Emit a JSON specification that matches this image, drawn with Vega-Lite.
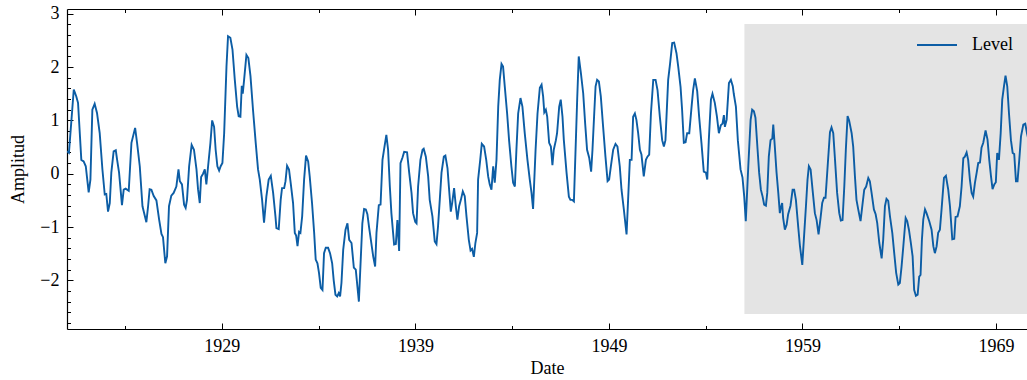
{
  "$schema": "https://vega.github.io/schema/vega-lite/v6.json",
  "width": 960,
  "height": 320,
  "autosize": {"type": "none"},
  "padding": {"left": 67, "top": 9, "right": 0, "bottom": 51},
  "background": "white",
  "config": {
    "view": {"stroke": null},
    "font": "Liberation Serif",
    "axis": {
      "labelFont": "Liberation Serif",
      "titleFont": "Liberation Serif",
      "labelFontSize": 18,
      "titleFontSize": 18,
      "titleFontWeight": "normal",
      "labelColor": "#000000",
      "titleColor": "#000000",
      "domainColor": "#000000",
      "domainWidth": 1.2,
      "tickColor": "#000000",
      "tickWidth": 1,
      "grid": false
    }
  },
  "layer": [
    {
      "data": {"values": [{"start": 1956.0, "end": 1970.6, "low": -2.63, "high": 2.81}]},
      "mark": {"type": "rect", "color": "#e4e4e4", "clip": true},
      "encoding": {
        "x": {
          "field": "start", "type": "quantitative",
          "scale": {"domain": [1921.0, 1970.6], "nice": false, "zero": false},
          "axis": {
            "orient": "top", "title": null, "labels": false,
            "values": [1924, 1929, 1934, 1939, 1944, 1949, 1954, 1959, 1964, 1969],
            "tickSize": {"condition": {"test": "(datum.value - 1929) % 10 == 0", "value": -6}, "value": -3.5}
          }
        },
        "x2": {"field": "end"},
        "y": {
          "field": "low", "type": "quantitative",
          "scale": {"domain": [-2.913, 3.09], "nice": false, "zero": false},
          "axis": null
        },
        "y2": {"field": "high"}
      }
    },
    {
      "data": {"values": [
        {"year": 1921.00, "level": 0.42}, {"year": 1921.10, "level": 0.39}, {"year": 1921.35, "level": 1.58}, {"year": 1921.48, "level": 1.45}, {"year": 1921.57, "level": 1.33}, {"year": 1921.74, "level": 0.26}, {"year": 1921.86, "level": 0.23}, {"year": 1921.97, "level": 0.14}, {"year": 1922.12, "level": -0.35}, {"year": 1922.21, "level": -0.11}, {"year": 1922.31, "level": 1.2}, {"year": 1922.43, "level": 1.31}, {"year": 1922.55, "level": 1.14}, {"year": 1922.69, "level": 0.76}, {"year": 1922.83, "level": 0.08}, {"year": 1922.95, "level": -0.39}, {"year": 1923.03, "level": -0.38}, {"year": 1923.12, "level": -0.71}, {"year": 1923.21, "level": -0.55}, {"year": 1923.29, "level": 0.02}, {"year": 1923.41, "level": 0.42}, {"year": 1923.52, "level": 0.44}, {"year": 1923.59, "level": 0.26}, {"year": 1923.69, "level": 0.02}, {"year": 1923.84, "level": -0.59}, {"year": 1923.93, "level": -0.3}, {"year": 1924.03, "level": -0.28}, {"year": 1924.19, "level": -0.32}, {"year": 1924.33, "level": 0.58}, {"year": 1924.52, "level": 0.86}, {"year": 1924.62, "level": 0.58}, {"year": 1924.76, "level": 0.14}, {"year": 1924.90, "level": -0.61}, {"year": 1925.10, "level": -0.91}, {"year": 1925.19, "level": -0.61}, {"year": 1925.27, "level": -0.29}, {"year": 1925.36, "level": -0.3}, {"year": 1925.48, "level": -0.42}, {"year": 1925.62, "level": -0.5}, {"year": 1925.76, "level": -0.86},
        {"year": 1925.88, "level": -1.13}, {"year": 1925.96, "level": -1.19}, {"year": 1926.08, "level": -1.68}, {"year": 1926.17, "level": -1.55}, {"year": 1926.27, "level": -0.61}, {"year": 1926.39, "level": -0.41}, {"year": 1926.51, "level": -0.36}, {"year": 1926.65, "level": -0.24}, {"year": 1926.76, "level": 0.08}, {"year": 1926.83, "level": -0.14}, {"year": 1926.94, "level": -0.2}, {"year": 1927.05, "level": -0.58}, {"year": 1927.13, "level": -0.64}, {"year": 1927.20, "level": -0.49}, {"year": 1927.31, "level": 0.14}, {"year": 1927.44, "level": 0.54}, {"year": 1927.56, "level": 0.45}, {"year": 1927.69, "level": 0.08}, {"year": 1927.77, "level": -0.29}, {"year": 1927.86, "level": -0.55}, {"year": 1927.93, "level": -0.06}, {"year": 1928.03, "level": 0.0}, {"year": 1928.12, "level": 0.08}, {"year": 1928.20, "level": -0.2}, {"year": 1928.29, "level": 0.14}, {"year": 1928.41, "level": 0.58}, {"year": 1928.50, "level": 1.0}, {"year": 1928.60, "level": 0.88}, {"year": 1928.68, "level": 0.45}, {"year": 1928.77, "level": 0.14}, {"year": 1928.86, "level": 0.06}, {"year": 1928.94, "level": 0.14}, {"year": 1929.03, "level": 0.2}, {"year": 1929.12, "level": 0.76}, {"year": 1929.24, "level": 2.01}, {"year": 1929.32, "level": 2.58}, {"year": 1929.44, "level": 2.55}, {"year": 1929.55, "level": 2.33}, {"year": 1929.67, "level": 1.76}, {"year": 1929.79, "level": 1.26}, {"year": 1929.87, "level": 1.08}, {"year": 1929.96, "level": 1.07}, {"year": 1930.03, "level": 1.65}, {"year": 1930.08, "level": 1.5}, {"year": 1930.15, "level": 1.76}, {"year": 1930.27, "level": 2.23}, {"year": 1930.37, "level": 2.17}, {"year": 1930.48, "level": 1.83}, {"year": 1930.61, "level": 1.2}, {"year": 1930.75, "level": 0.58},
        {"year": 1930.87, "level": 0.08}, {"year": 1930.96, "level": -0.11}, {"year": 1931.08, "level": -0.49}, {"year": 1931.18, "level": -0.92}, {"year": 1931.30, "level": -0.43}, {"year": 1931.42, "level": -0.11}, {"year": 1931.53, "level": -0.04}, {"year": 1931.65, "level": -0.36}, {"year": 1931.77, "level": -0.8}, {"year": 1931.82, "level": -1.02}, {"year": 1931.94, "level": -1.04}, {"year": 1932.04, "level": -0.49}, {"year": 1932.11, "level": -0.27}, {"year": 1932.22, "level": -0.27}, {"year": 1932.29, "level": -0.14}, {"year": 1932.37, "level": 0.15}, {"year": 1932.47, "level": 0.08}, {"year": 1932.56, "level": -0.18}, {"year": 1932.68, "level": -0.55}, {"year": 1932.77, "level": -1.11}, {"year": 1932.84, "level": -1.16}, {"year": 1932.91, "level": -1.36}, {"year": 1932.99, "level": -1.09}, {"year": 1933.06, "level": -1.11}, {"year": 1933.15, "level": -0.8}, {"year": 1933.25, "level": -0.11}, {"year": 1933.35, "level": 0.34}, {"year": 1933.46, "level": 0.23}, {"year": 1933.54, "level": -0.05}, {"year": 1933.66, "level": -0.55}, {"year": 1933.77, "level": -1.11}, {"year": 1933.85, "level": -1.61}, {"year": 1933.94, "level": -1.68}, {"year": 1934.02, "level": -1.86}, {"year": 1934.11, "level": -2.14}, {"year": 1934.20, "level": -2.18}, {"year": 1934.28, "level": -1.49}, {"year": 1934.37, "level": -1.39}, {"year": 1934.49, "level": -1.39}, {"year": 1934.59, "level": -1.49}, {"year": 1934.70, "level": -1.68}, {"year": 1934.78, "level": -2.0}, {"year": 1934.87, "level": -2.27}, {"year": 1934.96, "level": -2.3}, {"year": 1935.04, "level": -2.24}, {"year": 1935.11, "level": -2.3}, {"year": 1935.18, "level": -2.05}, {"year": 1935.27, "level": -1.43}, {"year": 1935.39, "level": -1.05}, {"year": 1935.49, "level": -0.93}, {"year": 1935.58, "level": -1.24},
        {"year": 1935.70, "level": -1.3}, {"year": 1935.82, "level": -1.76}, {"year": 1935.92, "level": -1.8}, {"year": 1936.08, "level": -2.4}, {"year": 1936.16, "level": -1.74}, {"year": 1936.26, "level": -0.93}, {"year": 1936.35, "level": -0.66}, {"year": 1936.44, "level": -0.67}, {"year": 1936.52, "level": -0.76}, {"year": 1936.61, "level": -1.01}, {"year": 1936.70, "level": -1.24}, {"year": 1936.82, "level": -1.55}, {"year": 1936.92, "level": -1.74}, {"year": 1936.99, "level": -1.11}, {"year": 1937.11, "level": -0.59}, {"year": 1937.20, "level": -0.58}, {"year": 1937.30, "level": 0.26}, {"year": 1937.40, "level": 0.5}, {"year": 1937.50, "level": 0.73}, {"year": 1937.59, "level": 0.45}, {"year": 1937.68, "level": -0.24}, {"year": 1937.76, "level": -0.74}, {"year": 1937.90, "level": -1.33}, {"year": 1937.99, "level": -1.32}, {"year": 1938.07, "level": -0.87}, {"year": 1938.16, "level": -1.45}, {"year": 1938.23, "level": 0.2}, {"year": 1938.33, "level": 0.3}, {"year": 1938.42, "level": 0.41}, {"year": 1938.57, "level": 0.4}, {"year": 1938.68, "level": 0.02}, {"year": 1938.80, "level": -0.36}, {"year": 1938.88, "level": -0.74}, {"year": 1938.99, "level": -0.9}, {"year": 1939.06, "level": -0.93}, {"year": 1939.14, "level": -0.24}, {"year": 1939.26, "level": 0.26}, {"year": 1939.37, "level": 0.45}, {"year": 1939.43, "level": 0.47}, {"year": 1939.54, "level": 0.32}, {"year": 1939.66, "level": -0.05}, {"year": 1939.74, "level": -0.49}, {"year": 1939.88, "level": -0.8}, {"year": 1940.00, "level": -1.27}, {"year": 1940.09, "level": -1.32}, {"year": 1940.17, "level": -0.99}, {"year": 1940.26, "level": -0.49}, {"year": 1940.35, "level": 0.02}, {"year": 1940.47, "level": 0.32}, {"year": 1940.55, "level": 0.34}, {"year": 1940.66, "level": 0.1},
        {"year": 1940.73, "level": -0.24}, {"year": 1940.83, "level": -0.71}, {"year": 1940.90, "level": -0.55}, {"year": 1941.00, "level": -0.27}, {"year": 1941.09, "level": -0.61}, {"year": 1941.17, "level": -0.86}, {"year": 1941.26, "level": -0.61}, {"year": 1941.35, "level": -0.49}, {"year": 1941.45, "level": -0.33}, {"year": 1941.55, "level": -0.42}, {"year": 1941.64, "level": -0.8}, {"year": 1941.76, "level": -1.24}, {"year": 1941.85, "level": -1.44}, {"year": 1941.93, "level": -1.41}, {"year": 1942.02, "level": -1.56}, {"year": 1942.10, "level": -1.3}, {"year": 1942.19, "level": -1.11}, {"year": 1942.24, "level": -0.11}, {"year": 1942.35, "level": 0.26}, {"year": 1942.43, "level": 0.56}, {"year": 1942.55, "level": 0.51}, {"year": 1942.66, "level": 0.26}, {"year": 1942.76, "level": -0.05}, {"year": 1942.84, "level": -0.2}, {"year": 1942.93, "level": -0.3}, {"year": 1943.02, "level": 0.14}, {"year": 1943.10, "level": -0.17}, {"year": 1943.19, "level": 0.26}, {"year": 1943.28, "level": 1.26}, {"year": 1943.36, "level": 1.76}, {"year": 1943.45, "level": 2.06}, {"year": 1943.53, "level": 2.01}, {"year": 1943.62, "level": 1.63}, {"year": 1943.74, "level": 1.13}, {"year": 1943.84, "level": 0.63}, {"year": 1943.96, "level": 0.14}, {"year": 1944.05, "level": -0.17}, {"year": 1944.14, "level": -0.24}, {"year": 1944.22, "level": 0.45}, {"year": 1944.31, "level": 1.13}, {"year": 1944.43, "level": 1.42}, {"year": 1944.53, "level": 1.26}, {"year": 1944.65, "level": 0.76}, {"year": 1944.79, "level": 0.26}, {"year": 1944.91, "level": -0.11}, {"year": 1945.00, "level": -0.36}, {"year": 1945.08, "level": -0.66}, {"year": 1945.21, "level": 0.45}, {"year": 1945.31, "level": 1.13}, {"year": 1945.43, "level": 1.61}, {"year": 1945.52, "level": 1.67}, {"year": 1945.60, "level": 1.45},
        {"year": 1945.66, "level": 1.15}, {"year": 1945.74, "level": 1.2}, {"year": 1945.81, "level": 1.07}, {"year": 1945.91, "level": 0.58}, {"year": 1946.00, "level": 0.51}, {"year": 1946.08, "level": 0.16}, {"year": 1946.15, "level": 0.45}, {"year": 1946.26, "level": 0.63}, {"year": 1946.32, "level": 0.76}, {"year": 1946.43, "level": 1.26}, {"year": 1946.51, "level": 1.39}, {"year": 1946.60, "level": 1.07}, {"year": 1946.67, "level": 0.63}, {"year": 1946.81, "level": 0.02}, {"year": 1946.93, "level": -0.43}, {"year": 1947.01, "level": -0.49}, {"year": 1947.10, "level": -0.49}, {"year": 1947.19, "level": -0.52}, {"year": 1947.36, "level": 1.4}, {"year": 1947.44, "level": 2.2}, {"year": 1947.55, "level": 1.89}, {"year": 1947.67, "level": 1.51}, {"year": 1947.77, "level": 0.95}, {"year": 1947.87, "level": 0.45}, {"year": 1947.98, "level": 0.3}, {"year": 1948.08, "level": 0.04}, {"year": 1948.15, "level": 0.45}, {"year": 1948.24, "level": 1.13}, {"year": 1948.31, "level": 1.64}, {"year": 1948.39, "level": 1.76}, {"year": 1948.48, "level": 1.73}, {"year": 1948.58, "level": 1.45}, {"year": 1948.70, "level": 0.88}, {"year": 1948.82, "level": 0.32}, {"year": 1948.93, "level": -0.14}, {"year": 1949.01, "level": -0.11}, {"year": 1949.10, "level": 0.14}, {"year": 1949.22, "level": 0.45}, {"year": 1949.34, "level": 0.56}, {"year": 1949.44, "level": 0.51}, {"year": 1949.56, "level": 0.14}, {"year": 1949.65, "level": -0.3}, {"year": 1949.77, "level": -0.67}, {"year": 1949.91, "level": -1.14}, {"year": 1949.99, "level": -0.49}, {"year": 1950.08, "level": 0.26}, {"year": 1950.17, "level": 0.26}, {"year": 1950.25, "level": 1.07}, {"year": 1950.34, "level": 1.13},
        {"year": 1950.42, "level": 1.01}, {"year": 1950.51, "level": 0.76}, {"year": 1950.60, "level": 0.45}, {"year": 1950.68, "level": 0.36}, {"year": 1950.80, "level": -0.05}, {"year": 1950.91, "level": 0.26}, {"year": 1950.99, "level": 0.32}, {"year": 1951.08, "level": 0.36}, {"year": 1951.17, "level": 1.13}, {"year": 1951.29, "level": 1.76}, {"year": 1951.41, "level": 1.76}, {"year": 1951.51, "level": 1.57}, {"year": 1951.63, "level": 1.07}, {"year": 1951.75, "level": 0.63}, {"year": 1951.84, "level": 0.51}, {"year": 1951.92, "level": 0.63}, {"year": 1952.06, "level": 1.76}, {"year": 1952.16, "level": 2.07}, {"year": 1952.27, "level": 2.45}, {"year": 1952.37, "level": 2.46}, {"year": 1952.49, "level": 2.26}, {"year": 1952.58, "level": 2.01}, {"year": 1952.70, "level": 1.63}, {"year": 1952.78, "level": 1.2}, {"year": 1952.87, "level": 0.58}, {"year": 1952.96, "level": 0.59}, {"year": 1953.04, "level": 0.76}, {"year": 1953.15, "level": 0.76}, {"year": 1953.27, "level": 1.26}, {"year": 1953.35, "level": 1.57}, {"year": 1953.44, "level": 1.79}, {"year": 1953.56, "level": 1.55}, {"year": 1953.66, "level": 1.07}, {"year": 1953.78, "level": 0.58}, {"year": 1953.90, "level": 0.04}, {"year": 1954.01, "level": 0.02}, {"year": 1954.08, "level": -0.11}, {"year": 1954.16, "level": 0.63}, {"year": 1954.27, "level": 1.39}, {"year": 1954.35, "level": 1.5}, {"year": 1954.47, "level": 1.33}, {"year": 1954.58, "level": 1.07}, {"year": 1954.68, "level": 0.76}, {"year": 1954.78, "level": 0.91}, {"year": 1954.87, "level": 0.94}, {"year": 1954.94, "level": 1.1}, {"year": 1954.99, "level": 0.88}, {"year": 1955.08, "level": 1.01}, {"year": 1955.20, "level": 1.7}, {"year": 1955.30, "level": 1.76}, {"year": 1955.40, "level": 1.64},
        {"year": 1955.45, "level": 1.5}, {"year": 1955.56, "level": 1.26}, {"year": 1955.66, "level": 0.63}, {"year": 1955.80, "level": 0.08}, {"year": 1955.90, "level": -0.07}, {"year": 1955.99, "level": -0.43}, {"year": 1956.07, "level": -0.89}, {"year": 1956.20, "level": 0.14}, {"year": 1956.32, "level": 1.01}, {"year": 1956.40, "level": 1.2}, {"year": 1956.49, "level": 1.17}, {"year": 1956.57, "level": 1.05}, {"year": 1956.68, "level": 0.45}, {"year": 1956.76, "level": 0.02}, {"year": 1956.85, "level": -0.3}, {"year": 1956.94, "level": -0.43}, {"year": 1957.02, "level": -0.58}, {"year": 1957.11, "level": -0.6}, {"year": 1957.18, "level": -0.36}, {"year": 1957.26, "level": 0.32}, {"year": 1957.35, "level": 0.63}, {"year": 1957.44, "level": 0.66}, {"year": 1957.49, "level": 0.92}, {"year": 1957.57, "level": 0.51}, {"year": 1957.66, "level": 0.02}, {"year": 1957.75, "level": -0.36}, {"year": 1957.83, "level": -0.74}, {"year": 1957.88, "level": -0.64}, {"year": 1957.95, "level": -0.55}, {"year": 1958.00, "level": -0.83}, {"year": 1958.09, "level": -1.05}, {"year": 1958.18, "level": -0.96}, {"year": 1958.26, "level": -0.76}, {"year": 1958.38, "level": -0.6}, {"year": 1958.49, "level": -0.3}, {"year": 1958.57, "level": -0.3}, {"year": 1958.66, "level": -0.49}, {"year": 1958.78, "level": -1.0}, {"year": 1958.87, "level": -1.36}, {"year": 1958.99, "level": -1.71}, {"year": 1959.07, "level": -1.24}, {"year": 1959.18, "level": -0.6}, {"year": 1959.26, "level": -0.11}, {"year": 1959.33, "level": 0.14}, {"year": 1959.42, "level": 0.08}, {"year": 1959.52, "level": -0.3}, {"year": 1959.64, "level": -0.74}, {"year": 1959.73, "level": -0.87}, {"year": 1959.83, "level": -1.14}, {"year": 1959.92, "level": -0.87}, {"year": 1960.02, "level": -0.55}, {"year": 1960.11, "level": -0.45}, {"year": 1960.19, "level": -0.45}, {"year": 1960.30, "level": 0.14}, {"year": 1960.42, "level": 0.78},
        {"year": 1960.50, "level": 0.87}, {"year": 1960.59, "level": 0.76}, {"year": 1960.67, "level": 0.32}, {"year": 1960.79, "level": -0.36}, {"year": 1960.90, "level": -0.74}, {"year": 1960.98, "level": -0.88}, {"year": 1961.07, "level": -0.87}, {"year": 1961.16, "level": -0.24}, {"year": 1961.24, "level": 0.45}, {"year": 1961.33, "level": 1.08}, {"year": 1961.41, "level": 1.0}, {"year": 1961.54, "level": 0.76}, {"year": 1961.62, "level": 0.51}, {"year": 1961.71, "level": -0.05}, {"year": 1961.79, "level": -0.49}, {"year": 1961.88, "level": -0.67}, {"year": 1962.00, "level": -0.89}, {"year": 1962.09, "level": -0.61}, {"year": 1962.19, "level": -0.3}, {"year": 1962.29, "level": -0.24}, {"year": 1962.40, "level": -0.08}, {"year": 1962.48, "level": -0.14}, {"year": 1962.57, "level": -0.36}, {"year": 1962.69, "level": -0.67}, {"year": 1962.78, "level": -0.76}, {"year": 1962.86, "level": -0.92}, {"year": 1962.97, "level": -1.3}, {"year": 1963.09, "level": -1.59}, {"year": 1963.17, "level": -1.24}, {"year": 1963.26, "level": -0.61}, {"year": 1963.34, "level": -0.47}, {"year": 1963.43, "level": -0.51}, {"year": 1963.52, "level": -0.8}, {"year": 1963.64, "level": -1.11}, {"year": 1963.74, "level": -1.49}, {"year": 1963.84, "level": -1.86}, {"year": 1963.95, "level": -2.08}, {"year": 1964.03, "level": -2.05}, {"year": 1964.12, "level": -1.74}, {"year": 1964.21, "level": -1.36}, {"year": 1964.33, "level": -0.83}, {"year": 1964.41, "level": -0.89}, {"year": 1964.50, "level": -1.05}, {"year": 1964.60, "level": -1.3}, {"year": 1964.69, "level": -1.55}, {"year": 1964.77, "level": -2.18}, {"year": 1964.86, "level": -2.29}, {"year": 1964.95, "level": -2.27}, {"year": 1965.03, "level": -1.93}, {"year": 1965.10, "level": -1.9}, {"year": 1965.17, "level": -1.24}, {"year": 1965.24, "level": -0.86}, {"year": 1965.33, "level": -0.67},
        {"year": 1965.41, "level": -0.74}, {"year": 1965.55, "level": -0.89}, {"year": 1965.67, "level": -1.05}, {"year": 1965.76, "level": -1.36}, {"year": 1965.84, "level": -1.49}, {"year": 1965.93, "level": -1.36}, {"year": 1966.01, "level": -1.11}, {"year": 1966.10, "level": -1.05}, {"year": 1966.19, "level": -0.65}, {"year": 1966.31, "level": -0.08}, {"year": 1966.41, "level": -0.04}, {"year": 1966.53, "level": -0.3}, {"year": 1966.62, "level": -0.61}, {"year": 1966.74, "level": -1.23}, {"year": 1966.84, "level": -1.22}, {"year": 1966.91, "level": -0.81}, {"year": 1967.01, "level": -0.8}, {"year": 1967.13, "level": -0.61}, {"year": 1967.22, "level": -0.24}, {"year": 1967.31, "level": 0.29}, {"year": 1967.39, "level": 0.32}, {"year": 1967.48, "level": 0.4}, {"year": 1967.56, "level": 0.26}, {"year": 1967.65, "level": -0.11}, {"year": 1967.74, "level": -0.36}, {"year": 1967.82, "level": -0.43}, {"year": 1967.91, "level": -0.17}, {"year": 1968.00, "level": 0.02}, {"year": 1968.08, "level": 0.2}, {"year": 1968.17, "level": 0.21}, {"year": 1968.25, "level": 0.49}, {"year": 1968.34, "level": 0.58}, {"year": 1968.46, "level": 0.81}, {"year": 1968.56, "level": 0.64}, {"year": 1968.65, "level": 0.26}, {"year": 1968.74, "level": -0.05}, {"year": 1968.82, "level": -0.29}, {"year": 1968.91, "level": -0.2}, {"year": 1968.99, "level": -0.16}, {"year": 1969.06, "level": 0.39}, {"year": 1969.15, "level": 0.26}, {"year": 1969.24, "level": 0.76}, {"year": 1969.32, "level": 1.39}, {"year": 1969.41, "level": 1.64}, {"year": 1969.49, "level": 1.84}, {"year": 1969.58, "level": 1.64}, {"year": 1969.67, "level": 1.13}, {"year": 1969.77, "level": 0.63}, {"year": 1969.86, "level": 0.39}, {"year": 1969.94, "level": 0.37}, {"year": 1970.03, "level": -0.14}, {"year": 1970.11, "level": -0.14}, {"year": 1970.20, "level": 0.26}, {"year": 1970.29, "level": 0.7}, {"year": 1970.41, "level": 0.92}, {"year": 1970.51, "level": 0.94}, {"year": 1970.60, "level": 0.76}, {"year": 1970.70, "level": 0.6}
      ]},
      "mark": {"type": "line", "strokeWidth": 1.9, "clip": true},
      "encoding": {
        "x": {
          "field": "year", "type": "quantitative",
          "scale": {"domain": [1921.0, 1970.6], "nice": false, "zero": false},
          "axis": {
            "orient": "bottom", "title": "Date",
            "values": [1924, 1929, 1934, 1939, 1944, 1949, 1954, 1959, 1964, 1969],
            "labelExpr": "(datum.value - 1929) % 10 == 0 ? format(datum.value, 'd') : ''",
            "tickSize": {"condition": {"test": "(datum.value - 1929) % 10 == 0", "value": -6}, "value": -3.5},
            "labelPadding": 14,
            "titlePadding": 4
          }
        },
        "y": {
          "field": "level", "type": "quantitative",
          "scale": {"domain": [-2.913, 3.09], "nice": false, "zero": false},
          "axis": {
            "orient": "left", "title": "Amplitud",
            "values": [-2.8, -2.6, -2.4, -2.2, -2, -1.8, -1.6, -1.4, -1.2, -1, -0.8, -0.6, -0.4, -0.2, 0, 0.2, 0.4, 0.6, 0.8, 1, 1.2, 1.4, 1.6, 1.8, 2, 2.2, 2.4, 2.6, 2.8, 3],
            "labelExpr": "abs(datum.value - round(datum.value)) < 0.01 ? (round(datum.value) < 0 ? '−' + abs(round(datum.value)) : '' + round(datum.value)) : ''",
            "tickSize": {"condition": {"test": "abs(datum.value - round(datum.value)) < 0.01", "value": -6}, "value": -3.5},
            "labelPadding": 14,
            "titlePadding": 12
          }
        },
        "color": {
          "datum": "Level",
          "scale": {"range": ["#0C5DA5"]},
          "legend": {
            "orient": "none", "legendX": 849, "legendY": 15,
            "title": null, "symbolType": "stroke", "symbolSize": 1600,
            "symbolStrokeWidth": 2, "labelFont": "Liberation Serif",
            "labelFontSize": 18, "labelColor": "#000000", "labelOffset": 14, "padding": 0
          }
        }
      }
    }
  ],
  "resolve": {"axis": {"x": "independent", "y": "independent"}}
}
